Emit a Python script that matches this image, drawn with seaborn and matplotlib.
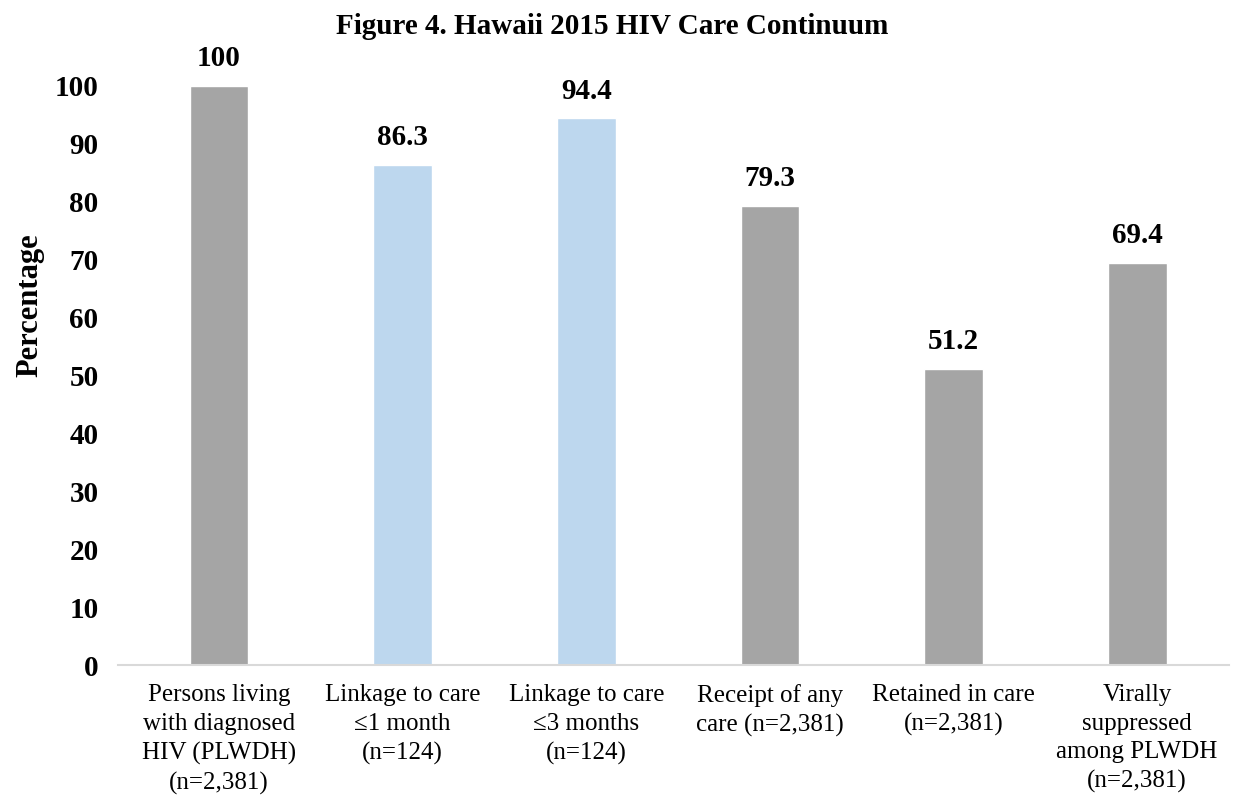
import pandas as pd
import matplotlib.pyplot as plt
import seaborn as sns

# chart data
categories = [
    'Persons living\nwith diagnosed\nHIV (PLWDH)\n(n=2,381)',
    'Linkage to care\n\u22641 month\n(n=124)',
    'Linkage to care\n\u22643 months\n(n=124)',
    'Receipt of any\ncare (n=2,381)',
    'Retained in care\n(n=2,381)',
    'Virally\nsuppressed\namong PLWDH\n(n=2,381)',
]
percentages = [100, 86.3, 94.4, 79.3, 51.2, 69.4]
value_labels = ['100', '86.3', '94.4', '79.3', '51.2', '69.4']
bar_colors = ['#A5A5A5', '#BDD7EE', '#BDD7EE', '#A5A5A5', '#A5A5A5', '#A5A5A5']
y_ticks = list(range(0, 101, 10))

df = pd.DataFrame({'stage': categories, 'pct': percentages})

sns.set_style('white')
plt.rcParams['font.family'] = ['Liberation Serif', 'DejaVu Serif']
plt.rcParams['text.color'] = 'black'
plt.rcParams['xtick.color'] = 'black'
plt.rcParams['ytick.color'] = 'black'

fig = plt.figure(figsize=(12.36, 8.01), dpi=100)
ax = fig.add_axes([118 / 1236, 1 - 665 / 801, (1229 - 118) / 1236, (665 - 86) / 801])

sns.barplot(data=df, x='stage', y='pct', hue='stage', palette=bar_colors,
            width=0.32, legend=False, saturation=1, ax=ax)

# value labels above bars
for i, (v, lab) in enumerate(zip(percentages, value_labels)):
    ax.annotate(lab, (i, v), xytext=(0, 10), textcoords='offset points',
                ha='center', va='bottom', fontsize=21, fontweight='bold',
                color='black', annotation_clip=False)

ax.set_xlim(-0.55, 5.5)
ax.set_ylim(0, 100)
ax.set_yticks(y_ticks)
ax.set_yticklabels([str(t) for t in y_ticks], fontsize=21, fontweight='bold')
ax.set_xticks(range(len(categories)))
ax.set_xticklabels(categories, fontsize=18, linespacing=1.38, va='top')
ax.tick_params(axis='y', length=0, pad=14)
ax.tick_params(axis='x', length=0, pad=14)

ax.set_xlabel('')
ax.set_ylabel('')
for s in ['top', 'right', 'left']:
    ax.spines[s].set_visible(False)
ax.spines['bottom'].set_color('#D9D9D9')
ax.spines['bottom'].set_linewidth(1.5)

fig.text(30 / 1236, 1 - 305 / 801, 'Percentage', rotation=90, ha='center',
         va='center', fontsize=22, fontweight='bold')
fig.text(612 / 1236, 1 - 26 / 801, 'Figure 4. Hawaii 2015 HIV Care Continuum',
         ha='center', va='center', fontsize=21, fontweight='bold')

fig.savefig('out.png', dpi=100)
